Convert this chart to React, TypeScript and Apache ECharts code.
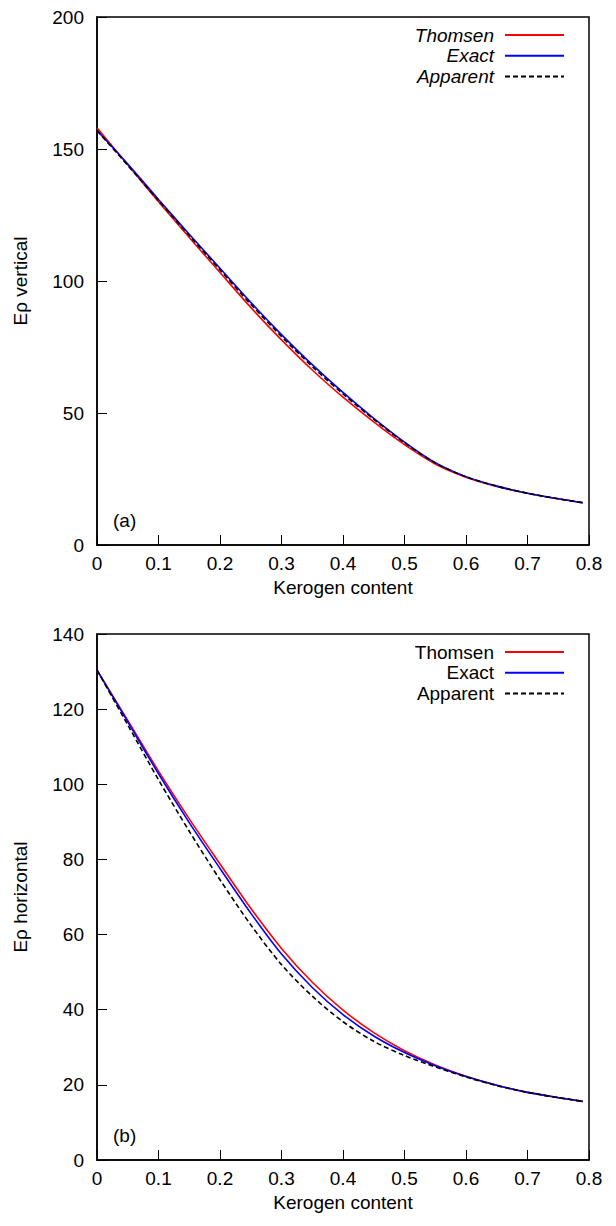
import React, { useEffect, useRef } from "react";
import * as echarts from "echarts";

// ---- data ----
const kerogen = [0, 0.05, 0.1, 0.15, 0.2, 0.25, 0.3, 0.35, 0.4, 0.45, 0.5, 0.55, 0.6, 0.65, 0.7, 0.75, 0.79];

// (a) vertical
const vThomsen = [158, 144.0, 130.0, 116.5, 103.2, 90.0, 77.7, 66.3, 56.0, 46.6, 38.0, 30.7, 25.7, 22.2, 19.6, 17.5, 16.0];
const vExact = [157, 144.3, 130.9, 117.7, 104.8, 91.9, 79.7, 68.3, 57.8, 48.0, 39.0, 31.2, 25.9, 22.3, 19.6, 17.5, 16.0];
const vApparent = [157, 143.8, 130.5, 117.2, 104.2, 91.2, 79.0, 67.6, 57.2, 47.6, 38.7, 31.1, 25.8, 22.3, 19.6, 17.5, 16.0];

// (b) horizontal
const hThomsen = [130.4, 117.0, 103.5, 90.8, 78.8, 67.0, 56.3, 47.3, 39.9, 33.9, 29.1, 25.3, 22.3, 19.9, 18.0, 16.6, 15.6];
const hExact = [130.4, 116.6, 102.8, 89.8, 77.6, 65.7, 54.8, 45.9, 38.7, 33.0, 28.6, 25.1, 22.2, 19.9, 18.0, 16.6, 15.6];
const hApparent = [130.4, 115.8, 101.2, 87.5, 74.6, 62.6, 52.0, 43.6, 36.8, 31.6, 27.8, 24.8, 22.1, 19.8, 18.0, 16.6, 15.6];

const seriesNames = ["Thomsen", "Exact", "Apparent"];
const xTicks = [0, 0.1, 0.2, 0.3, 0.4, 0.5, 0.6, 0.7, 0.8];

const FONT = '"Liberation Sans", Arial, Helvetica, sans-serif';

function pairs(ys: number[]) {
  return kerogen.map((x, i) => [x, ys[i]]);
}

export default function App() {
  const ref = useRef<HTMLDivElement>(null);

  useEffect(() => {
    if (!ref.current) return;
    const chart = echarts.init(ref.current, undefined, { renderer: "svg" });

    const xAxisBase = (gridIndex: number) => ({
      type: "value" as const,
      gridIndex,
      min: 0,
      max: 0.8,
      interval: 0.1,
      name: "Kerogen content",
      nameLocation: "middle" as const,
      nameGap: 33,
      nameTextStyle: { fontSize: 19, color: "#000", fontFamily: FONT },
      axisLine: { show: true, lineStyle: { color: "#000", width: 1.5 } },
      axisTick: { show: true, inside: true, length: 10, lineStyle: { color: "#000", width: 1 } },
      splitLine: { show: false },
      axisLabel: {
        fontSize: 19,
        color: "#000",
        fontFamily: FONT,
        margin: 9,
        formatter: (v: number) => {
          const t = xTicks.find((k) => Math.abs(k - v) < 1e-6);
          const val = t === undefined ? v : t;
          return val === 0 ? "0" : val.toFixed(1);
        },
      },
    });

    const yAxisBase = (gridIndex: number, max: number, interval: number, name: string) => ({
      type: "value" as const,
      gridIndex,
      min: 0,
      max,
      interval,
      name,
      nameLocation: "middle" as const,
      nameGap: 67,
      nameTextStyle: { fontSize: 19, color: "#000", fontFamily: FONT },
      axisLine: { show: true, lineStyle: { color: "#000", width: 1.5 } },
      axisTick: { show: true, inside: true, length: 10, lineStyle: { color: "#000", width: 1 } },
      splitLine: { show: false },
      axisLabel: { fontSize: 19, color: "#000", fontFamily: FONT, margin: 13 },
    });

    const lineSeries = (name: string, data: number[], color: string, idx: number, dashed: boolean) => ({
      type: "line" as const,
      name,
      xAxisIndex: idx,
      yAxisIndex: idx,
      data: pairs(data),
      smooth: 0.3,
      symbol: "none",
      showSymbol: false,
      lineStyle: { color, width: 1.6, type: dashed ? [5, 3] : "solid" },
      itemStyle: { color },
      z: dashed ? 4 : color === "#0000ff" ? 3 : 2,
    });

    const legendBase = (top: number, italic: boolean) => ({
      show: true,
      orient: "vertical" as const,
      align: "right" as const,
      right: 51,
      top,
      padding: 0,
      itemWidth: 59,
      itemHeight: 14,
      itemGap: 0.7,
      data: seriesNames,
      selectedMode: false,
      itemStyle: { opacity: 0 },
      textStyle: {
        fontSize: 19,
        lineHeight: 20,
        color: "#000",
        fontFamily: FONT,
        fontStyle: italic ? "italic" : "normal",
        padding: [0, 6, 0, 0],
      },
    });

    chart.setOption({
      animation: false,
      backgroundColor: "#fff",
      textStyle: { fontFamily: FONT },
      grid: [
        { left: 97, width: 492, top: 17, height: 528, show: true, borderColor: "#000", borderWidth: 1.5, backgroundColor: "transparent" },
        { left: 97, width: 492, top: 634, height: 526, show: true, borderColor: "#000", borderWidth: 1.5, backgroundColor: "transparent" },
      ],
      xAxis: [xAxisBase(0), xAxisBase(1)],
      yAxis: [
        yAxisBase(0, 200, 50, "Eρ vertical"),
        yAxisBase(1, 140, 20, "Eρ horizontal"),
      ],
      legend: [legendBase(25, true), legendBase(642, false)],
      graphic: [
        { type: "text", left: 113, top: 511, style: { text: "(a)", font: `19px ${FONT}`, fill: "#000" } },
        { type: "text", left: 113, top: 1126, style: { text: "(b)", font: `19px ${FONT}`, fill: "#000" } },
      ],
      series: [
        lineSeries("Thomsen", vThomsen, "#ff0000", 0, false),
        lineSeries("Exact", vExact, "#0000ff", 0, false),
        lineSeries("Apparent", vApparent, "#000000", 0, true),
        lineSeries("Thomsen", hThomsen, "#ff0000", 1, false),
        lineSeries("Exact", hExact, "#0000ff", 1, false),
        lineSeries("Apparent", hApparent, "#000000", 1, true),
      ],
    });

    return () => chart.dispose();
  }, []);

  return (
    <div
      ref={ref}
      style={{ position: "absolute", left: 0, top: 0, width: 616, height: 1226, background: "#fff" }}
    />
  );
}
